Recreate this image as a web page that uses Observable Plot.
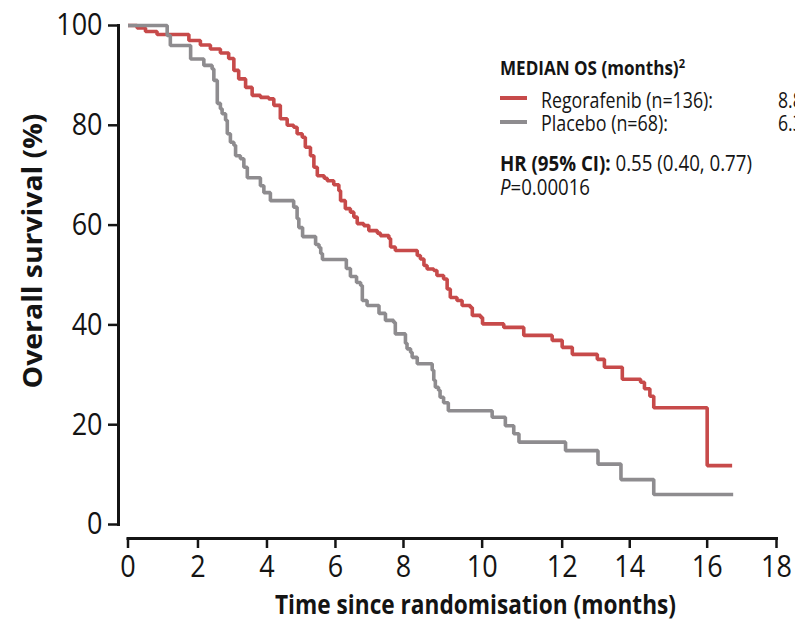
<!DOCTYPE html>
<html>
<head>
<meta charset="utf-8">
<script src="https://cdn.jsdelivr.net/npm/d3@7"></script>
<script src="https://cdn.jsdelivr.net/npm/@observablehq/plot@0.6"></script>
<style>
  html, body { margin: 0; padding: 0; background: #fff; overflow: hidden; }
  #wrap { position: relative; width: 795px; height: 624px; overflow: hidden; background: #fff; }
  .nar { font-family: "Open Sans", "Liberation Sans", sans-serif; color: #141414; }
  .leg { position: absolute; white-space: nowrap; line-height: 1; display: inline-block; transform-origin: 0 50%; }
  .sw { position: absolute; width: 27px; height: 4px; }
</style>
</head>
<body>
<div id="wrap" class="nar">
  <div id="chart"></div>
  <div class="leg" data-w="185" style="left:500px; top:57px; font-size:20px; font-weight:bold;">MEDIAN OS (months)<sup style="font-size:13px; vertical-align: 7px;">2</sup></div>
  <div class="sw" style="left:500px; top:96px; background:#c74a4a;"></div>
  <div class="leg" data-w="172" style="left:541px; top:88px; font-size:22px;">Regorafenib (n=136):</div>
  <div class="leg" data-s="0.8" style="left:778px; top:88px; font-size:22px;">8.8</div>
  <div class="sw" style="left:500px; top:120px; background:#8e8c8f;"></div>
  <div class="leg" data-w="127" style="left:541px; top:111px; font-size:22px;">Placebo (n=68):</div>
  <div class="leg" data-s="0.8" style="left:778px; top:111px; font-size:22px;">6.3</div>
  <div class="leg" data-w="252" style="left:500px; top:151px; font-size:22px;"><b>HR (95% CI):</b> 0.55 (0.40, 0.77)</div>
  <div class="leg" data-w="90" style="left:500px; top:175px; font-size:22px;"><i>P</i>=0.00016</div>
</div>
<script>
// Months since randomisation at each step and overall survival (%) after the step
const regorafenibMonths = [0, 0.26, 0.50, 0.83, 1.74, 2.07, 2.36, 2.65, 2.89, 3.04, 3.18, 3.38, 3.57, 3.81, 4.05, 4.20, 4.39, 4.59, 4.78, 4.88, 5.03, 5.12, 5.27, 5.37, 5.47, 5.67, 5.76, 5.95, 6.10, 6.15, 6.29, 6.44, 6.54, 6.64, 6.83, 6.98, 7.23, 7.32, 7.57, 7.62, 7.76, 8.35, 8.43, 8.52, 8.60, 8.77, 8.85, 9.02, 9.11, 9.19, 9.36, 9.49, 9.70, 9.75, 9.96, 10.01, 10.54, 11.04, 11.75, 12.00, 12.30, 13.04, 13.25, 13.78, 14.28, 14.38, 14.52, 14.62, 16.00, 16.72];
const regorafenibOS = [100, 99.5, 98.8, 98.2, 97.0, 96.1, 95.3, 94.5, 93.4, 91.0, 89.3, 87.6, 86.0, 85.6, 85.3, 84.0, 81.3, 80.0, 79.6, 78.3, 77.6, 75.6, 73.9, 71.6, 69.9, 69.4, 68.9, 68.1, 66.9, 64.9, 63.3, 62.6, 61.6, 60.3, 59.9, 58.9, 58.4, 57.9, 57.3, 55.6, 54.9, 53.9, 53.2, 51.9, 51.2, 50.9, 49.9, 49.2, 47.2, 45.5, 44.9, 43.9, 43.5, 41.9, 41.5, 40.2, 39.5, 37.9, 36.9, 35.5, 34.1, 33.1, 31.5, 29.1, 28.5, 27.2, 25.7, 23.4, 11.8, 11.8];
const placeboMonths = [0, 1.12, 1.21, 1.79, 2.17, 2.41, 2.46, 2.56, 2.65, 2.70, 2.80, 2.85, 2.94, 3.04, 3.09, 3.23, 3.33, 3.43, 3.81, 3.91, 4.10, 4.78, 4.88, 4.93, 5.04, 5.42, 5.52, 5.57, 5.62, 6.32, 6.44, 6.62, 6.74, 6.79, 6.93, 7.28, 7.47, 7.71, 7.76, 8.05, 8.09, 8.18, 8.22, 8.35, 8.73, 8.77, 8.81, 8.89, 8.93, 9.02, 9.14, 10.25, 10.58, 10.79, 10.92, 12.10, 13.06, 13.74, 14.62, 16.75];
const placeboOS = [100, 98.0, 96.0, 93.3, 92.0, 91.3, 89.0, 84.4, 83.3, 82.3, 81.0, 78.3, 76.6, 76.0, 73.9, 73.3, 71.6, 69.5, 67.9, 66.5, 64.9, 63.6, 61.3, 59.5, 57.7, 56.1, 55.5, 54.3, 53.1, 51.3, 49.7, 48.5, 47.9, 44.9, 43.9, 42.3, 40.9, 40.5, 38.2, 36.3, 35.2, 34.5, 33.5, 32.2, 30.9, 28.9, 27.5, 26.9, 25.5, 24.4, 22.8, 21.5, 19.8, 18.2, 16.5, 14.8, 12.1, 9.0, 6.0, 6.0];

const seriesNames = ["Regorafenib", "Placebo"];
const seriesColors = ["#c74a4a", "#8e8c8f"];
const xTicks = [0, 2, 4, 6, 8, 10, 12, 14, 16, 18];
const yTicks = [0, 20, 40, 60, 80, 100];
// The original figure's month ticks are unevenly spaced; these are their relative
// positions along the axis (0 = first tick, 1 = last tick), used to warp the time axis.
const xTickFractions = [0, 0.1079, 0.2143, 0.3199, 0.4248, 0.5461, 0.6695, 0.7737, 0.8931, 1];

const warp = d3.scaleLinear().domain(xTicks).range(xTickFractions.map(f => f * 18));

const data = [
  ...regorafenibMonths.map((t, i) => ({series: seriesNames[0], t, s: regorafenibOS[i]})),
  ...placeboMonths.map((t, i) => ({series: seriesNames[1], t, s: placeboOS[i]}))
];

const FONT = '"Open Sans", "Liberation Sans", sans-serif';
const INK = "#141414";

const chart = Plot.plot({
  width: 795,
  height: 624,
  marginTop: 25,
  marginRight: 19,
  marginBottom: 86,
  marginLeft: 118,
  style: {fontFamily: FONT, background: "white", color: INK, overflow: "visible"},
  x: {domain: [0, 18], range: [127.5, 776]},
  y: {domain: [0, 100], range: [524, 25]},
  color: {domain: seriesNames, range: seriesColors},
  marks: [
    Plot.frame({anchor: "left", insetBottom: 14, stroke: INK, strokeWidth: 3}),
    Plot.frame({anchor: "bottom", insetLeft: 9.5, stroke: INK, strokeWidth: 3}),
    Plot.axisY({ticks: yTicks, tickSize: 10, tickPadding: 6, strokeWidth: 2.5, fontSize: 31, label: null, stroke: INK}),
    Plot.axisX({ticks: xTicks.map(warp), tickFormat: d => String(Math.round(warp.invert(d))), tickSize: 10, tickPadding: 6, strokeWidth: 2.5, fontSize: 31, label: null, stroke: INK}),
    Plot.text(["Overall survival (%)"], {frameAnchor: "left", textAnchor: "middle", lineAnchor: "middle", rotate: -90, dx: -85, dy: -31, fontSize: 27, fontWeight: "bold", fill: INK}),
    Plot.text(["Time since randomisation (months)"], {frameAnchor: "bottom", dx: 28, dy: 75, fontSize: 27, fontWeight: "bold", fill: INK}),
    Plot.line(data, {x: d => warp(d.t), y: "s", z: "series", stroke: "series", curve: "step-after", strokeWidth: 3.6, strokeLinejoin: "miter", strokeLinecap: "butt"})
  ]
});
document.getElementById("chart").appendChild(chart);

// condense text to mimic the narrow typeface of the original
function condense(t, target) {
  const L = t.getComputedTextLength();
  if (L > 0) { t.setAttribute("textLength", target(L)); t.setAttribute("lengthAdjust", "spacingAndGlyphs"); }
}
function squeeze(t, width) {
  const L = t.getComputedTextLength();
  if (L > 0) {
    const tr = t.getAttribute("transform") || "";
    t.setAttribute("transform", `${tr} scale(${width / L},1)`);
  }
}
chart.querySelectorAll('g[aria-label$="tick label"] text').forEach(t => condense(t, L => L * 0.87));
chart.querySelectorAll('text').forEach(t => {
  if (t.textContent === "Overall survival (%)") squeeze(t, 275);
  if (t.textContent === "Time since randomisation (months)") condense(t, () => 401);
});
document.querySelectorAll(".leg").forEach(el => {
  const w = el.getBoundingClientRect().width;
  const s = el.dataset.w ? (+el.dataset.w / w) : (+el.dataset.s || 1);
  el.style.transform = `scaleX(${s})`;
});
</script>
</body>
</html>
